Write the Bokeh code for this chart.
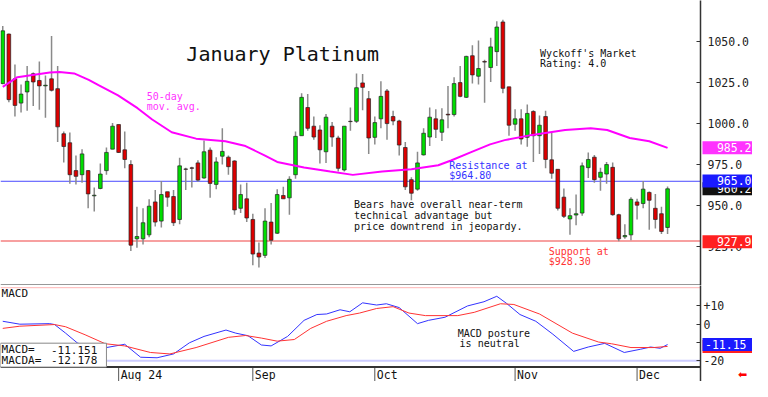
from bokeh.plotting import figure
from bokeh.layouts import column, row
from bokeh.models import (ColumnDataSource, Span, Label, BoxAnnotation, FixedTicker,
                          Range1d, NumeralTickFormatter)
from bokeh.embed import file_html
from bokeh.resources import INLINE
from bokeh.core.properties import value

# ---------------- data ----------------
opens = [1024.4, 1054.6, 1027.3, 1012.5, 1019.3, 1030.4, 1026.3, 1023.0, 1027.3, 1021.3,
         993.8, 988.3, 971.3, 968.8, 971.3, 955.9, 960.4, 971.3, 984.4, 999.4,
         984.0, 975.0, 929.7, 929.7, 932.1, 952.2, 940.5, 958.4, 955.5, 941.5,
         972.3, 973.0, 976.0, 966.8, 983.8, 962.9, 980.1, 979.5, 977.2, 948.3,
         954.1, 941.5, 921.0, 919.6, 939.9, 933.1, 956.1, 954.7, 968.8, 992.6,
         1009.8, 998.4, 996.1, 982.8, 998.4, 991.2, 971.7, 1001.4, 1001.4, 1024.8,
         1015.2, 991.6, 1002.9, 1019.9, 1004.3, 1001.6, 985.4, 965.8, 960.0, 980.9,
         991.8, 1002.9, 994.7, 1005.7, 1005.5, 1025.0, 1016.0, 1041.4, 1028.9, 1037.9,
         1034.2, 1043.9, 1062.0, 1022.4, 999.6, 1002.9, 991.6, 1007.4, 992.6, 1004.3,
         977.9, 972.1, 955.1, 941.8, 944.2, 945.4, 973.1, 979.5, 967.2, 969.2,
         973.3, 944.4, 930.9, 932.1, 952.2, 951.2, 958.0, 948.3, 945.0, 936.6]
highs = [1059.5, 1055.0, 1036.1, 1023.8, 1035.1, 1031.2, 1037.9, 1029.3, 1053.5, 1035.1,
         995.1, 994.5, 980.5, 984.4, 971.7, 961.0, 975.6, 985.4, 1000.4, 999.4,
         995.1, 977.6, 949.3, 948.3, 953.9, 959.4, 964.9, 958.4, 959.4, 979.1,
         973.1, 973.7, 977.6, 989.7, 985.4, 979.5, 997.1, 980.5, 977.6, 962.9,
         963.9, 945.0, 927.4, 948.3, 951.6, 960.0, 961.4, 967.8, 995.1, 1018.5,
         1018.0, 1004.3, 999.0, 1005.9, 1001.0, 992.6, 998.4, 1009.8, 1030.6, 1030.2,
         1019.9, 1004.3, 1025.8, 1021.1, 1007.8, 1002.3, 988.7, 967.2, 982.8, 997.1,
         1009.8, 1008.8, 1009.4, 1023.0, 1028.3, 1035.1, 1041.4, 1047.8, 1050.7, 1039.0,
         1052.3, 1062.5, 1063.4, 1022.4, 1008.8, 1008.8, 1011.7, 1008.2, 1004.9, 1007.8,
         994.5, 972.1, 960.4, 948.3, 956.7, 976.2, 982.4, 980.9, 973.1, 976.6,
         976.2, 945.0, 938.5, 955.1, 954.1, 964.9, 958.6, 957.1, 949.3, 961.6]
lows = [1024.0, 1013.0, 1004.3, 1006.8, 1007.8, 1010.7, 1008.4, 1003.5, 1019.5, 988.7,
        976.2, 963.3, 962.9, 963.9, 948.3, 946.3, 960.0, 968.8, 984.4, 982.0,
        972.7, 922.3, 924.3, 926.2, 930.7, 937.2, 936.6, 949.3, 937.5, 938.5,
        959.4, 961.0, 964.5, 966.4, 954.7, 960.0, 975.0, 968.8, 944.4, 945.4,
        939.9, 913.5, 912.2, 918.0, 926.2, 932.7, 954.1, 944.4, 966.4, 992.6,
        995.7, 990.2, 975.6, 976.0, 985.9, 970.7, 970.7, 995.7, 1000.4, 1008.2,
        981.5, 987.3, 997.1, 990.2, 999.0, 980.5, 959.4, 953.2, 959.0, 980.5,
        986.3, 991.2, 989.3, 997.1, 1004.3, 1016.0, 1015.6, 1024.4, 1023.8, 1012.7,
        1025.4, 1035.1, 1018.5, 992.6, 995.7, 987.3, 985.9, 976.6, 981.5, 972.7,
        966.4, 946.9, 942.4, 932.1, 937.9, 943.8, 966.8, 963.9, 959.0, 963.3,
        943.8, 928.2, 929.7, 928.8, 941.5, 948.3, 935.2, 936.0, 932.7, 932.7]
closes = [1056.6, 1014.6, 1011.1, 1018.0, 1025.8, 1025.4, 1023.0, 1023.4, 1020.3, 998.0,
          986.0, 968.8, 967.8, 981.5, 957.1, 956.3, 969.2, 982.4, 998.4, 982.4,
          978.1, 925.8, 931.1, 939.5, 949.6, 939.9, 956.7, 955.1, 939.5, 974.2,
          972.1, 972.7, 965.5, 982.8, 963.5, 976.6, 983.0, 973.7, 947.3, 956.7,
          942.4, 920.4, 918.6, 940.5, 928.8, 956.7, 954.1, 966.0, 992.2, 1016.0,
          997.1, 991.8, 984.0, 1003.9, 991.8, 972.7, 998.4, 1001.2, 1021.9, 1022.1,
          991.2, 1000.6, 1016.6, 1000.0, 1001.6, 986.9, 961.4, 957.5, 976.0, 994.1,
          1003.9, 996.5, 1002.3, 1005.3, 1024.4, 1016.6, 1041.0, 1029.7, 1033.6, 1037.5,
          1046.8, 1058.9, 1021.5, 999.0, 1002.9, 990.6, 1006.2, 992.6, 999.0, 978.1,
          969.7, 948.3, 943.4, 943.8, 945.0, 974.2, 978.1, 965.8, 970.3, 975.0,
          944.4, 929.7, 931.7, 953.8, 950.2, 960.0, 953.2, 941.5, 934.2, 960.2]

# 50-day moving average, read at these bar positions
ma_idx = [0, 2.4, 4.9, 7.7, 9.3, 11.7, 14.1, 15.7, 18.9, 22.1, 24.5, 27.7, 31.7, 36.5,
          39.8, 43, 45, 49.4, 53.7, 57.4, 62.2, 67, 71.4, 73.5, 76.7, 79.9, 82.3, 86.8,
          92.2, 96.4, 99.1, 102.8, 106, 109]
ma_val = [1022.4, 1028.3, 1029.7, 1031.2, 1031.5, 1030.6, 1026.7, 1023.4, 1017.2, 1009.4,
          1002.5, 994.7, 990.8, 989.2, 986.3, 980.4, 976.6, 973.2, 970.7, 968.7, 970.7,
          972.2, 974.6, 977.5, 982.4, 987.3, 989.9, 993.1, 996.1, 997.1, 996.1, 991.2,
          989.2, 985.2]

# MACD (blue) and MACD average (red)
macd_idx = [0, 2.8, 7.7, 8.5, 10.3, 12.2, 14.6, 17, 20, 22.6, 25.3, 28, 30.6, 33, 36.6,
            38.2, 40.2, 42.4, 44, 46.7, 49.4, 51.5, 53.1, 55.3, 56.9, 59, 61.3, 62.9, 65,
            68, 69.8, 72.5, 76.2, 78.9, 81, 82.6, 84.8, 87.4, 90.2, 93.6, 96, 98.7, 101.9,
            104.6, 106.2, 107.8, 109]
macd_val = [1.6, 0.0, 0.3, -0.2, -4.9, -10.2, -13.5, -12.8, -11.0, -18.1, -18.4, -16.3,
            -10.2, -6.7, -3.2, -4.9, -6.3, -11.4, -11.9, -6.7, 2.1, 5.3, 5.6, 7.9, 6.8,
            11.7, 10.5, 11.2, 9.1, 0.3, 2.1, 3.8, 10.0, 12.3, 15.3, 11.4, 5.3, 1.6, -5.5,
            -14.9, -12.5, -10.5, -15.5, -13.7, -12.5, -13.2, -11.151]
sig_idx = [0, 2.8, 8.5, 10.3, 13.5, 16.8, 20, 24.2, 27.4, 31.7, 37, 39.8, 42.4, 45, 47.8,
           50.5, 53.1, 56.3, 58.5, 61.3, 64, 66.6, 69.3, 74.6, 77.3, 81.6, 83.8, 88, 93.4,
           97.7, 99.8, 103, 106.7, 109]
sig_val = [-2.3, -1.1, -0.2, -1.4, -5.8, -10.7, -11.9, -15.5, -16.3, -12.8, -7.2, -6.2,
           -7.6, -9.3, -8.4, -2.3, 1.6, 4.7, 6.1, 8.6, 9.6, 6.1, 4.7, 4.7, 6.5, 11.2, 10.8,
           5.6, -4.9, -9.8, -10.7, -12.8, -12.8, -12.178]

month_idx = [19, 41, 61, 84, 104]
month_labels = ["Aug 24", "Sep", "Oct", "Nov", "Dec"]

price_ticks = [925, 950, 975, 1000, 1025, 1050]
macd_ticks = [-20, -10, 0, 10]
macd_tick_labels = ["-20", "-10", "0", "+10"]

resistance = 964.80
support = 928.30
macd_last = -11.151
macda_last = -12.178

# right-hand value tags (drawn in this order, later ones on top)
price_tag_vals = [985.2, 960.2, 965.0, 927.9]
price_tag_text = ["985.2", "960.2", "965.0", "927.9"]
price_tag_cols = ["#ff33ff", "#111111", "#1a1aff", "#ff2020"]
macd_tag_vals = [-12.178, -11.151]
macd_tag_text = ["-12.18", "-11.15"]
macd_tag_cols = ["#ff2020", "#1a1aff"]

# ---------------- layout constants ----------------
W = 752
H_PRICE = 285
H_MACD = 96
RB = 52
X0, X1 = -0.37, 114.4
MONO = "DejaVu Sans Mono"

n = len(closes)
idx = list(range(n))
up = [c >= o for o, c in zip(opens, closes)]
src = ColumnDataSource(dict(
    x=idx, high=highs, low=lows,
    top=[max(o, c) for o, c in zip(opens, closes)],
    bottom=[min(o, c) for o, c in zip(opens, closes)],
    color=["#00dd00" if u else "#dd0000" for u in up],
))

xr = Range1d(X0, X1)


def base_fig(w, h, x_range, y_range, right_axis=True):
    f = figure(width=w, height=h, x_range=x_range, y_range=y_range,
               output_backend="svg", toolbar_location=None, x_axis_location=None,
               y_axis_location="right" if right_axis else None,
               min_border_left=0, min_border_top=0, min_border_bottom=0,
               min_border_right=RB if right_axis else 0)
    f.outline_line_color = None
    f.grid.visible = False
    return f


def style_axis(a, standoff):
    a.axis_line_color = "#333333"
    a.axis_line_width = 1.5
    a.major_tick_in = 4
    a.major_tick_out = 0
    a.minor_tick_line_color = None
    a.major_tick_line_color = "#333333"
    a.major_label_standoff = standoff
    a.major_label_text_font = MONO
    a.major_label_text_font_size = "11.5px"
    a.major_label_text_color = "#222222"


def lab(fig, x, y, text, color="#111111", size="10px", font=MONO, align="left"):
    fig.add_layout(Label(x=x, y=y, text=text, text_color=color, text_font=font,
                         text_font_size=size, text_align=align, text_baseline="middle"))


# ---------------- price panel ----------------
p = base_fig(W, H_PRICE, xr, Range1d(901.2, 1075.1))
ax = p.yaxis[0]
ax.ticker = FixedTicker(ticks=price_ticks)
ax.formatter = NumeralTickFormatter(format="0.0")
style_axis(ax, 7)

p.add_layout(Span(location=resistance, dimension="width", line_color="#4a4aff",
                  line_width=1, level="underlay"))
p.add_layout(Span(location=support, dimension="width", line_color="#f7a0a0",
                  line_width=2, level="underlay"))

p.segment(x0="x", y0="low", x1="x", y1="high", source=src, line_color="#8a8a8a",
          line_width=1.5)
p.vbar(x="x", top="top", bottom="bottom", width=0.6, source=src, fill_color="color",
       line_color="#222222", line_width=0.7)
p.line(ma_idx, ma_val, line_color="#ff00ff", line_width=2)

p.add_layout(Span(location=p.y_range.start, dimension="width", line_color="#333333",
                  line_width=2))

lab(p, 30.1, 1042.3, "January Platinum", size="20px")
lab(p, 23.6, 1016.6, "50-day", color="#ff33ff")
lab(p, 23.6, 1010.4, "mov. avg.", color="#ff33ff")
lab(p, 88.1, 1042.9, "Wyckoff's Market")
lab(p, 88.1, 1036.5, "Rating: 4.0")
lab(p, 73.2, 974.2, "Resistance at", color="#3333ff")
lab(p, 73.2, 968.3, "$964.80", color="#3333ff")
lab(p, 57.6, 950.4, "Bears have overall near-term")
lab(p, 57.6, 944.0, "technical advantage but")
lab(p, 57.6, 937.5, "price downtrend in jeopardy.")
lab(p, 89.5, 921.9, "Support at", color="#ff3333")
lab(p, 89.5, 916.0, "$928.30", color="#ff3333")

# ---------------- MACD panel ----------------
m = base_fig(W, H_MACD, xr, Range1d(-31.4, 21.2))
max_ = m.yaxis[0]
max_.ticker = FixedTicker(ticks=macd_ticks)
max_.major_label_overrides = {t: s for t, s in zip(macd_ticks, macd_tick_labels)}
style_axis(max_, 3)

m.add_layout(Span(location=20, dimension="width", line_color="#ffb4b4", line_width=1,
                  level="underlay"))
m.add_layout(Span(location=-20, dimension="width", line_color="#ccccff", line_width=2,
                  level="underlay"))

m.line(macd_idx, macd_val, line_color="#3333ff", line_width=1)
m.line(sig_idx, sig_val, line_color="#ff3333", line_width=1)

m.add_layout(Span(location=-23.5, dimension="width", line_color="#333333", line_width=2))
m.segment(x0=month_idx, y0=[-23.5] * len(month_idx), x1=month_idx,
          y1=[-31.4] * len(month_idx), line_color="#555555", line_width=1)
m.text(x=month_idx, y=[-27.8] * len(month_idx), text=month_labels, x_offset=2,
       text_font=value(MONO), text_font_size="11.5px", text_baseline="middle",
       text_align="left", text_color="#111111")

lab(m, -0.2, 17.0, "MACD", size="11px")
lab(m, 74.6, -5.3, "MACD posture")
lab(m, 74.9, -10.5, "is neutral")

m.add_layout(BoxAnnotation(left=X0, right=17.0, top=-10.4, bottom=-23.5,
                           fill_color="white", fill_alpha=1.0, line_color="#888888",
                           line_width=1, line_alpha=1.0))
lab(m, -0.2, -14.0, "MACD=", size="11px")
lab(m, -0.2, -19.8, "MACDA=", size="11px")
lab(m, 15.5, -14.0, "%.3f" % macd_last, size="11px", align="right")
lab(m, 15.5, -19.8, "%.3f" % macda_last, size="11px", align="right")


# ---------------- value tags laid over the right axes ----------------
def tag_fig(h, y_range, vals, texts, cols, text_x):
    t = base_fig(RB, h, Range1d(-0.04, 1.0), y_range, right_axis=False)
    t.background_fill_alpha = 0
    t.border_fill_alpha = 0
    t.margin = (0, 0, 0, -RB)
    for v, s, c in zip(vals, texts, cols):
        t.rect(x=[0.5], y=[v], width=1.0, height=13, height_units="screen",
               fill_color=c, line_color=None)
        t.text(x=[text_x], y=[v], text=[s], text_color="white",
               text_font=value(MONO), text_font_size="11.5px", text_align="right",
               text_baseline="middle")
    return t


tp = tag_fig(H_PRICE, p.y_range, price_tag_vals, price_tag_text, price_tag_cols, 0.98)
tm = tag_fig(H_MACD, m.y_range, macd_tag_vals, macd_tag_text, macd_tag_cols, 0.88)
tm.text(x=[0.8], y=[-27.8], text=["\u2b05"], text_color="#ff0000",
        text_font=value("DejaVu Sans"), text_font_size="11px", text_baseline="middle",
        text_align="center")

layout = column(row(p, tp, spacing=0), row(m, tm, spacing=0), spacing=0)
open("out.html", "w").write(file_html(layout, INLINE))
